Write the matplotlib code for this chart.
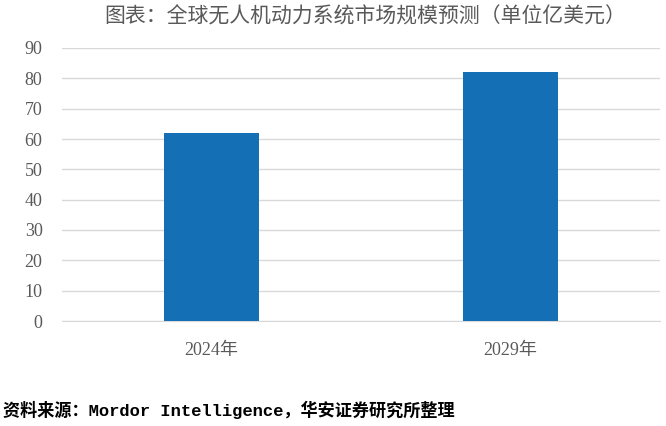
import matplotlib
matplotlib.use("Agg")
import matplotlib.pyplot as plt

categories = ["2024年", "2029年"]
values = [62, 82]
yticks = [0, 10, 20, 30, 40, 50, 60, 70, 80, 90]

plt.rcParams['font.family'] = ['Liberation Serif', 'Noto Sans CJK SC']

fig = plt.figure(figsize=(6.66, 4.26), dpi=100)
W, H = 666, 426
left, right = 62 / W, 660 / W
top, bottom = 1 - 48 / H, 1 - 321 / H
ax = fig.add_axes([left, bottom, right - left, top - bottom])

x = list(range(len(categories)))
ax.bar(x, values, width=0.315, color="#156FB5", zorder=3)
ax.set_xlim(-0.5, len(categories) - 0.5)
ax.set_ylim(0, 90)
ax.set_yticks(yticks)
ax.set_yticklabels([str(t) for t in yticks])
ax.set_xticks(x)
ax.set_xticklabels(categories)
ax.yaxis.grid(True, color="#D9D9D9", linewidth=1.0, zorder=0)
for s in ["top", "right", "left"]:
    ax.spines[s].set_visible(False)
ax.spines["bottom"].set_color("#D9D9D9")
ax.tick_params(axis="both", length=0, colors="#595959", labelsize=13)
ax.tick_params(axis="y", pad=14)
ax.tick_params(axis="x", pad=15)
for lbl in ax.get_xticklabels() + ax.get_yticklabels():
    lbl.set_family(['Liberation Serif', 'Noto Sans CJK SC'])

fig.text(365 / W, 1 - 17 / H, "图表：全球无人机动力系统市场规模预测（单位亿美元）",
         ha="center", va="center", fontsize=15, color="#595959",
         family=['Noto Sans CJK SC'])
fig.text(3 / W, 1 - 410 / H, "资料来源：Mordor Intelligence，华安证券研究所整理",
         ha="left", va="center", fontsize=12.3, color="black", fontweight="bold",
         family=['Liberation Mono', 'Noto Sans CJK SC'])

fig.savefig("out.png", dpi=100)
